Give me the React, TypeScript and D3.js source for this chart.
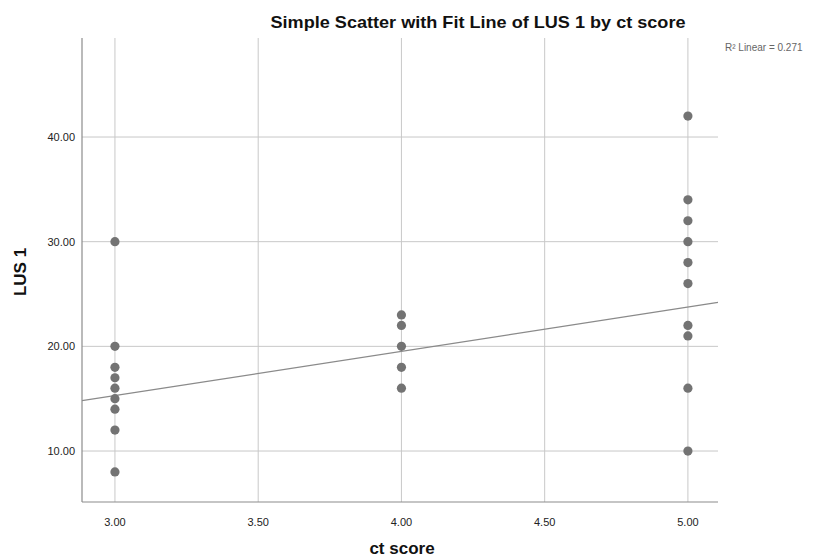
import React, { useRef, useEffect } from "react";
import * as d3 from "d3";

// ct score (x) and LUS 1 (y), one entry per visible case
const ctScore = [3, 3, 3, 3, 3, 3, 3, 3, 3, 4, 4, 4, 4, 4, 5, 5, 5, 5, 5, 5, 5, 5, 5, 5];
const lus1 = [30, 20, 18, 17, 16, 15, 14, 12, 8, 23, 22, 20, 18, 16, 42, 34, 32, 30, 28, 26, 22, 21, 16, 10];

const xTicks = [3, 3.5, 4, 4.5, 5];
const yTicks = [10, 20, 30, 40];

// linear fit as drawn by the original (overlapping cases hide some points)
const fitIntercept = 2.625;
const fitSlope = 4.225;
const rSquared = 0.271;

export default function App() {
  const ref = useRef<SVGSVGElement>(null);

  useEffect(() => {
    document.body.style.margin = "0";
    const width = 818;
    const height = 559;
    const left = 82, right = 718, top = 38, bottom = 502;

    const svg = d3.select(ref.current);
    svg.selectAll("*").remove();
    svg.attr("width", width).attr("height", height)
      .style("display", "block")
      .style("font-family", "'Liberation Sans', Arial, sans-serif");

    const x = d3.scaleLinear().domain([2.885, 5.105]).range([left, right]);
    const y = d3.scaleLinear().domain([5.13, 49.46]).range([bottom, top]);

    // grid
    svg.append("g").selectAll("line").data(xTicks).enter().append("line")
      .attr("x1", d => x(d)).attr("x2", d => x(d)).attr("y1", top).attr("y2", bottom)
      .attr("stroke", "#c8c8c8").attr("stroke-width", 1);
    svg.append("g").selectAll("line").data(yTicks).enter().append("line")
      .attr("x1", left).attr("x2", right).attr("y1", d => y(d)).attr("y2", d => y(d))
      .attr("stroke", "#c8c8c8").attr("stroke-width", 1);

    // axes
    svg.append("line").attr("x1", left).attr("x2", left).attr("y1", top).attr("y2", bottom)
      .attr("stroke", "#8c8c8c").attr("stroke-width", 1.2);
    svg.append("line").attr("x1", left).attr("x2", right).attr("y1", bottom).attr("y2", bottom)
      .attr("stroke", "#8c8c8c").attr("stroke-width", 1.2);

    svg.append("g").selectAll("text").data(yTicks).enter().append("text")
      .attr("x", left - 7).attr("y", d => y(d)).attr("dy", "0.35em")
      .attr("text-anchor", "end").attr("font-size", 11).attr("fill", "#222")
      .text(d => d3.format(".2f")(d));
    svg.append("g").selectAll("text").data(xTicks).enter().append("text")
      .attr("x", d => x(d)).attr("y", 526)
      .attr("text-anchor", "middle").attr("font-size", 11).attr("fill", "#222")
      .text(d => d3.format(".2f")(d));

    // fit line across the whole x range
    const [x0, x1] = x.domain();
    const line = d3.line<number>().x(d => x(d)).y(d => y(fitIntercept + fitSlope * d));
    svg.append("path").datum([x0, x1]).attr("d", line)
      .attr("fill", "none").attr("stroke", "#8a8a8a").attr("stroke-width", 1.2);

    svg.append("g").selectAll("circle").data(ctScore).enter().append("circle")
      .attr("cx", d => x(d)).attr("cy", (d, i) => y(lus1[i])).attr("r", 4.6)
      .attr("fill", "#737373");

    svg.append("text").attr("x", 478).attr("y", 28).attr("text-anchor", "middle")
      .attr("font-size", 17).attr("font-weight", "bold").attr("fill", "#111")
      .attr("textLength", 415).attr("lengthAdjust", "spacingAndGlyphs")
      .text("Simple Scatter with Fit Line of LUS 1 by ct score");
    svg.append("text").attr("x", 725).attr("y", 51).attr("font-size", 10).attr("fill", "#666")
      .text(`R² Linear = ${rSquared.toFixed(3)}`);
    svg.append("text").attr("transform", `translate(26,272) rotate(-90)`).attr("text-anchor", "middle")
      .attr("font-size", 17).attr("font-weight", "bold").attr("fill", "#111").text("LUS 1");
    svg.append("text").attr("x", 402).attr("y", 554).attr("text-anchor", "middle")
      .attr("font-size", 17).attr("font-weight", "bold").attr("fill", "#111").text("ct score");
  }, []);

  return <svg ref={ref}></svg>;
}
